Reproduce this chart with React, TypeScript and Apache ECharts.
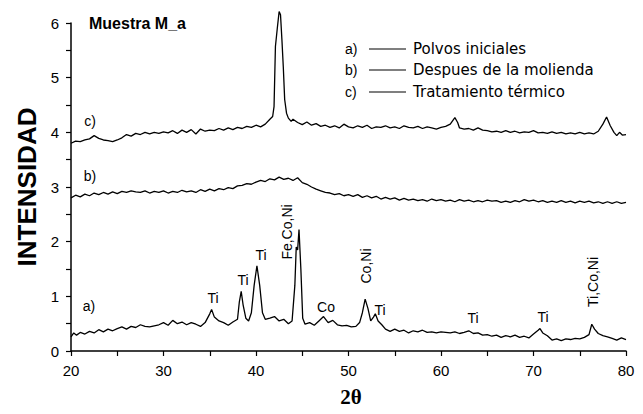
import React, { useEffect, useRef } from "react";
import * as echarts from "echarts";

// Curve a) Polvos iniciales
const thetaA = [20.0,20.3,20.6,21.0,21.5,22.0,22.5,23.0,23.5,24.0,24.5,25.0,25.5,26.0,26.5,27.0,27.5,28.0,28.5,29.0,29.5,30.0,30.5,31.0,31.5,32.0,32.5,33.0,33.5,34.0,34.5,35.0,35.2,35.5,36.0,36.5,37.0,37.5,38.0,38.2,38.4,38.6,38.9,39.2,39.5,39.8,40.1,40.4,40.7,41.0,41.5,42.0,42.5,43.0,43.5,43.9,44.2,44.35,44.5,44.65,44.85,45.05,45.3,45.8,46.3,46.8,47.3,47.8,48.3,48.8,49.3,49.8,50.3,50.8,51.2,51.5,51.8,52.1,52.4,52.7,52.9,53.2,53.6,54.0,54.5,55.0,55.5,56.0,56.5,57.0,57.5,58.0,58.5,59.0,59.5,60.0,60.5,61.0,61.5,62.0,62.5,63.0,63.5,64.0,64.5,65.0,65.5,66.0,66.5,67.0,67.5,68.0,68.5,69.0,69.5,70.0,70.5,70.7,71.0,71.5,72.0,72.5,73.0,73.5,74.0,74.5,75.0,75.5,76.0,76.3,76.6,77.0,77.5,78.0,78.5,79.0,79.5,80.0];
const intA = [0.26,0.33,0.29,0.34,0.31,0.36,0.33,0.39,0.35,0.40,0.37,0.41,0.44,0.40,0.45,0.43,0.48,0.45,0.44,0.46,0.48,0.52,0.47,0.56,0.50,0.53,0.48,0.52,0.49,0.45,0.52,0.68,0.76,0.62,0.55,0.52,0.47,0.53,0.58,0.90,1.09,0.85,0.60,0.55,0.70,1.20,1.56,1.20,0.70,0.58,0.60,0.63,0.55,0.58,0.50,0.55,1.20,1.90,1.85,2.22,1.50,0.60,0.49,0.52,0.47,0.55,0.63,0.52,0.56,0.48,0.46,0.47,0.44,0.45,0.52,0.70,0.95,0.78,0.55,0.62,0.68,0.55,0.48,0.40,0.36,0.40,0.36,0.38,0.33,0.37,0.35,0.38,0.34,0.35,0.33,0.35,0.34,0.33,0.35,0.32,0.34,0.37,0.32,0.33,0.29,0.30,0.27,0.29,0.25,0.28,0.26,0.29,0.25,0.27,0.24,0.31,0.38,0.41,0.33,0.28,0.20,0.22,0.19,0.22,0.21,0.23,0.22,0.25,0.30,0.49,0.40,0.32,0.28,0.26,0.23,0.20,0.24,0.21];

// Curve b) Despues de la molienda
const thetaB = [20,20.5,21,21.5,22,22.5,23,23.5,24,24.5,25,25.5,26,26.5,27,27.5,28,28.5,29,29.5,30,30.5,31,31.5,32,32.5,33,33.5,34,34.5,35,35.5,36,36.5,37,37.5,38,38.5,39,39.5,40,40.5,41,41.5,42,42.5,43,43.5,44,44.5,45,45.5,46,46.5,47,47.5,48,48.5,49,49.5,50,50.5,51,51.5,52,52.5,53,53.5,54,54.5,55,55.5,56,56.5,57,57.5,58,58.5,59,59.5,60,60.5,61,61.5,62,62.5,63,63.5,64,64.5,65,65.5,66,66.5,67,67.5,68,68.5,69,69.5,70,70.5,71,71.5,72,72.5,73,73.5,74,74.5,75,75.5,76,76.5,77,77.5,78,78.5,79,79.5,80];
const intB = [2.80,2.85,2.82,2.87,2.84,2.89,2.86,2.90,2.87,2.91,2.88,2.92,2.90,2.93,2.91,2.90,2.93,2.89,2.92,2.90,2.93,2.89,2.92,2.90,2.94,2.91,2.93,2.90,2.95,2.92,2.96,2.93,2.97,2.95,2.99,2.97,3.02,3.03,3.06,3.05,3.09,3.12,3.10,3.15,3.13,3.18,3.14,3.16,3.12,3.17,3.08,3.05,3.00,2.96,2.93,2.90,2.89,2.86,2.88,2.84,2.86,2.83,2.86,2.81,2.84,2.80,2.83,2.78,2.81,2.78,2.80,2.76,2.79,2.76,2.78,2.75,2.77,2.74,2.78,2.75,2.77,2.74,2.76,2.73,2.77,2.74,2.76,2.73,2.75,2.73,2.76,2.74,2.75,2.72,2.74,2.72,2.75,2.73,2.77,2.74,2.76,2.73,2.75,2.72,2.74,2.72,2.75,2.72,2.74,2.71,2.74,2.72,2.74,2.71,2.73,2.70,2.73,2.70,2.73,2.70,2.72];

// Curve c) Tratamiento térmico
const thetaC = [20,20.5,21,21.5,22,22.5,23,23.5,24,24.5,25,25.5,26,26.5,27,27.5,28,28.5,29,29.5,30,30.5,31,31.5,32,32.5,33,33.5,34,34.5,35,35.5,36,36.5,37,37.5,38,38.5,39,39.5,40,40.5,41,41.5,41.8,41.95,42.1,42.3,42.5,42.65,42.8,42.95,43.1,43.3,43.5,43.8,44,44.5,45,45.5,46,46.5,47,47.5,48,48.5,49,49.5,50,50.5,51,51.5,52,52.5,53,53.5,54,54.5,55,55.5,56,56.5,57,57.5,58,58.5,59,59.5,60,60.5,61,61.5,61.8,62,62.5,63,63.5,64,64.5,65,65.5,66,66.5,67,67.5,68,68.5,69,69.5,70,70.5,71,71.5,72,72.5,73,73.5,74,74.5,75,75.5,76,76.5,77,77.5,77.9,78.3,78.7,79,79.3,79.6,80];
const intC = [3.80,3.84,3.83,3.86,3.88,3.94,3.89,3.86,3.85,3.83,3.86,3.90,3.96,3.93,3.98,3.96,4.00,3.97,4.00,3.98,4.01,3.99,4.03,3.98,4.04,4.00,4.05,3.97,4.06,4.02,4.04,4.03,4.07,4.04,4.08,4.05,4.09,4.07,4.11,4.09,4.13,4.10,4.15,4.24,4.29,4.47,5.57,5.90,6.21,6.15,5.70,5.20,4.60,4.35,4.26,4.20,4.24,4.18,4.14,4.19,4.13,4.16,4.11,4.13,4.09,4.12,4.08,4.15,4.10,4.08,4.12,4.09,4.13,4.07,4.10,4.09,4.12,4.08,4.10,4.07,4.12,4.09,4.08,4.11,4.07,4.10,4.08,4.06,4.09,4.11,4.15,4.27,4.18,4.08,4.06,4.07,4.04,4.08,4.04,4.03,4.01,4.02,4.00,4.03,4.00,4.02,3.99,4.01,4.00,4.03,3.99,4.00,3.98,4.01,3.98,4.00,3.97,3.99,3.97,4.00,3.97,3.99,3.97,4.02,4.15,4.28,4.12,4.00,3.94,4.00,3.95,3.96];

const legendKeys = ["a)", "b)", "c)"];
const legendNames = ["Polvos iniciales", "Despues de la molienda", "Tratamiento térmico"];

const xTicksMin = 20;
const xTicksMax = 80;
const yTicksMin = 0;
const yTicksMax = 6;

function zip(xs: number[], ys: number[]) {
  return xs.map((x, i) => [x, ys[i]]);
}

export default function App() {
  const ref = useRef<HTMLDivElement>(null);
  useEffect(() => {
    if (!ref.current) return;
    const chart = echarts.init(ref.current, null, { renderer: "svg" });
    const lbl = { fontFamily: "Liberation Sans, Arial, sans-serif", fontSize: 14, fill: "#000" };
    const seriesCommon = {
      type: "line" as const,
      showSymbol: false,
      clip: false,
      lineStyle: { color: "#000", width: 1.3 },
    };
    const graphic: any[] = [
      { type: "text", left: 89, top: 15, style: { text: "Muestra M_a", font: "bold 16px 'Liberation Sans', Arial, sans-serif", fill: "#000" } },
      // axis titles
      { type: "text", x: 27, y: 187, rotation: Math.PI / 2, style: { text: "INTENSIDAD", font: "bold 26px 'Liberation Sans', Arial, sans-serif", fill: "#000", align: "center", verticalAlign: "middle" } },
      { type: "text", x: 351, y: 397, style: { text: "2θ", font: "bold 21px 'Liberation Serif', 'Times New Roman', serif", fill: "#000", align: "center", verticalAlign: "middle" } },
      // curve tags
      { type: "text", x: 89, y: 306, style: { ...lbl, text: "a)", align: "center", verticalAlign: "middle" } },
      { type: "text", x: 90, y: 176, style: { ...lbl, text: "b)", align: "center", verticalAlign: "middle" } },
      { type: "text", x: 90, y: 121, style: { ...lbl, text: "c)", align: "center", verticalAlign: "middle" } },
      // peak labels
      { type: "text", x: 213, y: 298, style: { ...lbl, text: "Ti", align: "center", verticalAlign: "middle" } },
      { type: "text", x: 243, y: 280, style: { ...lbl, text: "Ti", align: "center", verticalAlign: "middle" } },
      { type: "text", x: 261, y: 255, style: { ...lbl, text: "Ti", align: "center", verticalAlign: "middle" } },
      { type: "text", x: 287, y: 232, rotation: Math.PI / 2, style: { ...lbl, text: "Fe,Co,Ni", align: "center", verticalAlign: "middle" } },
      { type: "text", x: 326, y: 307, style: { ...lbl, text: "Co", align: "center", verticalAlign: "middle" } },
      { type: "text", x: 366, y: 266, rotation: Math.PI / 2, style: { ...lbl, text: "Co,Ni", align: "center", verticalAlign: "middle" } },
      { type: "text", x: 380, y: 310, style: { ...lbl, text: "Ti", align: "center", verticalAlign: "middle" } },
      { type: "text", x: 473, y: 318, style: { ...lbl, text: "Ti", align: "center", verticalAlign: "middle" } },
      { type: "text", x: 543, y: 317, style: { ...lbl, text: "Ti", align: "center", verticalAlign: "middle" } },
      { type: "text", x: 593, y: 282, rotation: Math.PI / 2, style: { ...lbl, text: "Ti,Co,Ni", align: "center", verticalAlign: "middle" } },
    ];
    const legendY = [49, 70, 92];
    legendKeys.forEach((k, i) => {
      graphic.push({ type: "text", x: 345, y: legendY[i], style: { ...lbl, text: k, align: "left", verticalAlign: "middle" } });
      graphic.push({ type: "line", shape: { x1: 369, y1: legendY[i], x2: 406, y2: legendY[i] }, style: { stroke: "#000", lineWidth: 1.2 } });
      graphic.push({ type: "text", x: 413, y: legendY[i], style: { text: legendNames[i], font: "15px 'DejaVu Sans', sans-serif", fill: "#000", align: "left", verticalAlign: "middle" } });
    });

    chart.setOption({
      animation: false,
      backgroundColor: "#fff",
      grid: { left: 71, right: 17, top: 23, bottom: 63 },
      xAxis: {
        type: "value",
        min: xTicksMin,
        max: xTicksMax,
        interval: 5,
        splitLine: { show: false },
        axisLine: { lineStyle: { color: "#000", width: 1.5 } },
        axisTick: { length: 5, lineStyle: { color: "#000", width: 1.2 } },
        axisLabel: {
          color: "#000",
          fontSize: 15,
          fontFamily: "Liberation Sans, Arial, sans-serif",
          margin: 12,
          formatter: (v: number) => (v % 10 === 0 ? String(v) : ""),
        },
      },
      yAxis: {
        type: "value",
        min: yTicksMin,
        max: yTicksMax,
        interval: 0.5,
        splitLine: { show: false },
        axisLine: { show: true, lineStyle: { color: "#000", width: 1.5 } },
        axisTick: { show: true, length: 5, lineStyle: { color: "#000", width: 1.2 } },
        axisLabel: {
          color: "#000",
          fontSize: 15,
          fontFamily: "Liberation Sans, Arial, sans-serif",
          margin: 12,
          formatter: (v: number) => (Number.isInteger(v) ? String(v) : ""),
        },
      },
      series: [
        { ...seriesCommon, name: legendNames[0], data: zip(thetaA, intA) },
        { ...seriesCommon, name: legendNames[1], data: zip(thetaB, intB) },
        { ...seriesCommon, name: legendNames[2], data: zip(thetaC, intC) },
      ],
      graphic,
    });
    return () => chart.dispose();
  }, []);
  return <div ref={ref} style={{ position: "fixed", left: 0, top: 0, width: 643, height: 414, background: "#fff" }} />;
}
